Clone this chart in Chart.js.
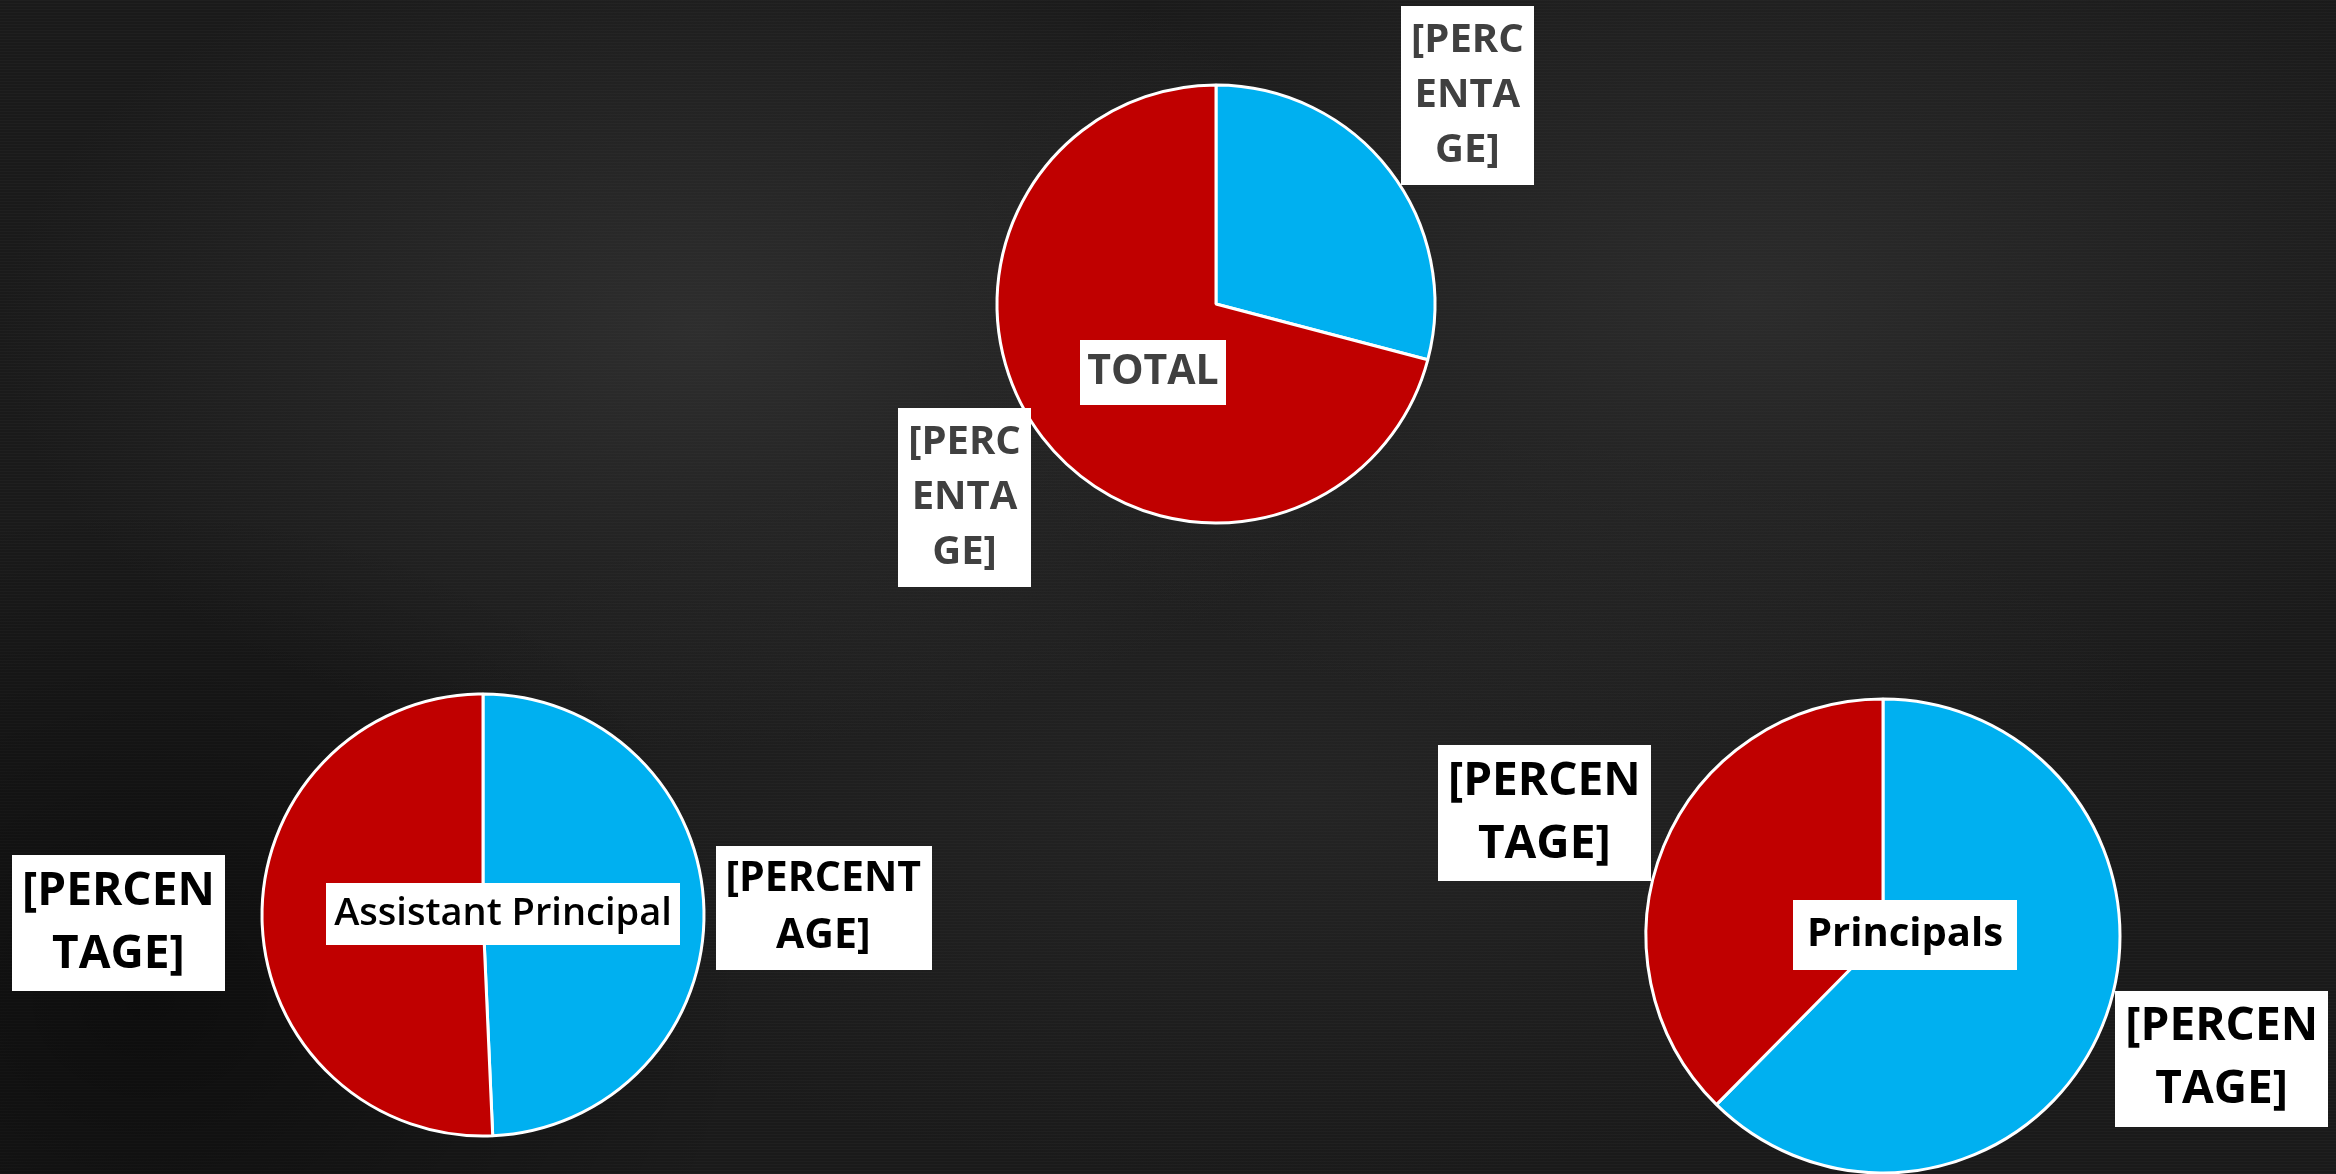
<!DOCTYPE html>
<html>
<head>
<meta charset="utf-8">
<script src="https://cdn.jsdelivr.net/npm/chart.js@4.4.1/dist/chart.umd.min.js"></script>
<style>
html, body { margin: 0; padding: 0; width: 2336px; height: 1174px; overflow: hidden; }
body {
  background:
    radial-gradient(ellipse 700px 420px at 700px 330px, rgba(70,70,70,0.45), rgba(0,0,0,0) 100%),
    radial-gradient(ellipse 800px 450px at 1750px 300px, rgba(65,65,65,0.45), rgba(0,0,0,0) 100%),
    radial-gradient(ellipse 900px 380px at 1300px 800px, rgba(55,55,55,0.35), rgba(0,0,0,0) 100%),
    radial-gradient(ellipse 600px 500px at 150px 1000px, rgba(0,0,0,0.5), rgba(0,0,0,0) 100%),
    repeating-linear-gradient(0deg, rgba(255,255,255,0.025) 0px, rgba(255,255,255,0.025) 1px, rgba(0,0,0,0) 1px, rgba(0,0,0,0) 3px),
    #1a1a1a;
}
canvas { position: absolute; left: 0; top: 0; }
</style>
</head>
<body>
<canvas id="c0" width="2336" height="1174"></canvas>
<canvas id="c1" width="2336" height="1174"></canvas>
<canvas id="c2" width="2336" height="1174"></canvas>
<script>
// ---- data ----
const categories = ["Segment A", "Segment B"];
const chartTitles = ["TOTAL", "Assistant Principal", "Principals"];
const totalValues = [29.1, 70.9];
const assistantValues = [49.3, 50.7];
const principalValues = [62.4, 37.6];
const totalLabels = [["[PERC", "ENTA", "GE]"], ["[PERC", "ENTA", "GE]"]];
const assistantLabels = [["[PERCENT", "AGE]"], ["[PERCEN", "TAGE]"]];
const principalLabels = [["[PERCEN", "TAGE]"], ["[PERCEN", "TAGE]"]];
const sliceColors = ["#00B0F0", "#C00000"];

// ---- layout / style ----
const W = 2336, H = 1174;
const FONT = '"Open Sans", "Noto Sans", sans-serif';
const layouts = [
  { id: 'c0', title: chartTitles[0], values: totalValues, labels: totalLabels,
    cx: 1216, cy: 304, r: 219, color: '#404040',
    factors: [1.49, 1.45], shifts: [-2, 0], fonts: [40, 40], lhs: [55, 55], weight: 700, padX: 10, padY: 7,
    titleFont: 41, titleWeight: 700, titleDx: -63, titleDy: 68, titlePadX: 7, titlePadY: 8 },
  { id: 'c1', title: chartTitles[1], values: assistantValues, labels: assistantLabels,
    cx: 483, cy: 915, r: 221, color: '#000000',
    factors: [1.54, 1.65], shifts: [0, 0], fonts: [41, 46], lhs: [57, 63], weight: 700, padX: 10, padY: 5,
    titleFont: 38, titleWeight: 600, titleDx: 20, titleDy: -1, titlePadX: 8, titlePadY: 8 },
  { id: 'c2', title: chartTitles[2], values: principalValues, labels: principalLabels,
    cx: 1883, cy: 936, r: 237, color: '#000000',
    factors: [1.52, 1.52], shifts: [-2.4, -2.4], fonts: [46, 46], lhs: [63, 63], weight: 700, padX: 10, padY: 5,
    titleFont: 40, titleWeight: 700, titleDx: 22, titleDy: -1, titlePadX: 14, titlePadY: 11 }
];

function drawBox(ctx, lines, x, y, size, weight, lh, color, padX, padY) {
  ctx.save();
  ctx.font = weight + ' ' + size + 'px ' + FONT;
  let maxW = 0;
  lines.forEach(l => { maxW = Math.max(maxW, ctx.measureText(l).width); });
  const w = maxW + 2 * padX;
  const h = lines.length * lh + 2 * padY;
  ctx.fillStyle = '#ffffff';
  ctx.fillRect(Math.round(x - w / 2), Math.round(y - h / 2), Math.round(w), Math.round(h));
  ctx.fillStyle = color;
  ctx.textAlign = 'center';
  ctx.textBaseline = 'middle';
  lines.forEach((l, k) => {
    ctx.fillText(l, x, y - h / 2 + padY + lh * (k + 0.5));
  });
  ctx.restore();
}

const boxLabelPlugin = {
  id: 'boxLabels',
  afterDatasetsDraw(chart, args, o) {
    const ctx = chart.ctx;
    const meta = chart.getDatasetMeta(0);
    let cx = 0, cy = 0;
    meta.data.forEach((arc, i) => {
      const p = arc.getProps(['x', 'y', 'startAngle', 'endAngle', 'outerRadius'], true);
      cx = p.x; cy = p.y;
      const mid = (p.startAngle + p.endAngle) / 2 + o.shifts[i] * Math.PI / 180;
      const d = p.outerRadius * o.factors[i];
      drawBox(ctx, o.labels[i], p.x + Math.cos(mid) * d, p.y + Math.sin(mid) * d,
        o.fonts[i], o.weight, o.lhs[i], o.color, o.padX, o.padY);
    });
    drawBox(ctx, [o.title], cx + o.titleDx, cy + o.titleDy, o.titleFont, o.titleWeight,
      Math.round(o.titleFont * 1.2), o.color, o.titlePadX, o.titlePadY);
  }
};

layouts.forEach(L => {
  const s = 40;
  new Chart(document.getElementById(L.id), {
    type: 'pie',
    data: {
      labels: categories,
      datasets: [{
        data: L.values,
        backgroundColor: sliceColors,
        borderColor: '#ffffff',
        borderWidth: 3,
        radius: L.r,
        clip: false
      }]
    },
    options: {
      responsive: false,
      animation: false,
      devicePixelRatio: 1,
      layout: { padding: { left: L.cx - s, right: W - L.cx - s, top: L.cy - s, bottom: H - L.cy - s } },
      plugins: {
        legend: { display: false },
        tooltip: { enabled: false },
        boxLabels: L
      }
    },
    plugins: [boxLabelPlugin]
  });
});
</script>
</body>
</html>
